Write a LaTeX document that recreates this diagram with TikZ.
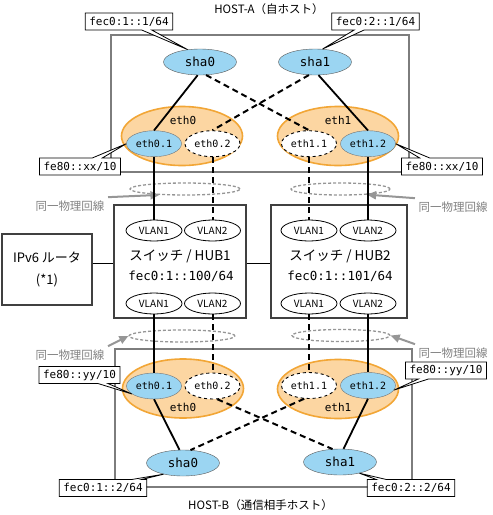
\documentclass[tikz,border=0pt]{standalone}
\usepackage{fontspec}
\setmainfont{Noto Sans CJK JP}
\newfontfamily\monofont{DejaVu Sans Mono}
\usetikzlibrary{shapes.geometric,shapes.callouts,arrows.meta}
\definecolor{shablue}{RGB}{155,213,242}
\definecolor{ethfill}{RGB}{252,214,162}
\definecolor{ethline}{RGB}{242,166,54}
\definecolor{framegray}{RGB}{125,125,125}
\definecolor{physgray}{RGB}{150,150,150}

\begin{document}
\begin{tikzpicture}[x=1pt, y=-1pt,
  frame/.style={draw=framegray, line width=1.5pt},
  box/.style={draw=black!75, line width=1.1pt, fill=white},
  sha/.style={draw=black!65, ellipse, fill=shablue, minimum width=73pt, minimum height=26pt, inner sep=0pt, font=\monofont\fontsize{12.5}{14}\selectfont},
  eth/.style={draw=ethline, ellipse, fill=ethfill, line width=1.6pt, minimum width=121pt, minimum height=59pt},
  sub/.style={draw=black!55, ellipse, fill=shablue, minimum width=55pt, minimum height=26pt, inner sep=0pt, font=\monofont\fontsize{10}{12}\selectfont},
  subd/.style={sub, draw=black, dashed, fill=white, line width=0.9pt},
  vlan/.style={draw, ellipse, fill=white, line width=0.8pt, minimum width=56pt, minimum height=21pt, inner sep=0pt, font=\fontsize{10}{12}\selectfont},
  lbl/.style={rectangle callout, draw, fill=white, line width=0.8pt, callout pointer width=10pt, inner xsep=4pt, inner ysep=2pt, minimum height=17pt, font=\monofont\fontsize{11}{13}\selectfont},
  phys/.style={draw=physgray, dash pattern=on 3pt off 2pt, ellipse, line width=1.3pt, minimum height=12pt, inner sep=0pt},
  ptext/.style={text=black!50, font=\fontsize{11.5}{13}\selectfont},
  parrow/.style={draw=physgray, line width=2pt, -{Triangle[length=9pt,width=8pt]}},
  n/.style={line width=1.8pt},
  d/.style={line width=2pt, dash pattern=on 6pt off 4pt}]
  \useasboundingbox (0,0) rectangle (493,515);

  % hosts
  \node[frame, minimum width=298pt, minimum height=137pt] (hostA) at (260,103.5) {};
  \node[frame, minimum width=297pt, minimum height=138pt] (hostB) at (263.5,418) {};
  \node[font=\fontsize{11.5}{13}\selectfont] (titleA) at (269,9.5) {HOST-A（自ホスト）};
  \node[font=\fontsize{11.5}{13}\selectfont] (titleB) at (260.5,505) {HOST-B（通信相手ホスト）};

  % switches and router
  \node[box, minimum width=132pt, minimum height=113pt] (hub1) at (180,261.5) {};
  \node[box, minimum width=136pt, minimum height=113pt] (hub2) at (339,261.5) {};
  \node[box, minimum width=90pt, minimum height=71pt, align=center, font=\fontsize{13}{22}\selectfont] (rt) at (47,269.5) {IPv6 ルータ\\(*1)};
  \coordinate (bus) at (0,263.5);
  \draw[line width=1.1pt] (rt.east |- bus) -- (hub1.west |- bus);
  \draw[line width=1.1pt] (hub1.east |- bus) -- (hub2.west |- bus);
  \node[font=\fontsize{13.5}{15}\selectfont] (hub1n) at (180,256) {スイッチ / HUB1};
  \node[font=\monofont\fontsize{12.5}{14}\selectfont] (hub1a) at (181,276) {fec0:1::100/64};
  \node[font=\fontsize{13.5}{15}\selectfont] (hub2n) at (340,256) {スイッチ / HUB2};
  \node[font=\monofont\fontsize{12.5}{14}\selectfont] (hub2a) at (340,276) {fec0:1::101/64};
  \node[vlan] (h1t1) at (154,230.5) {VLAN1};
  \node[vlan] (h1t2) at (212.5,230.5) {VLAN2};
  \node[vlan] (h2t1) at (309,230.5) {VLAN1};
  \node[vlan] (h2t2) at (368,230.5) {VLAN2};
  \node[vlan] (h1b1) at (154,303.5) {VLAN1};
  \node[vlan] (h1b2) at (212.5,303.5) {VLAN2};
  \node[vlan] (h2b1) at (309,303.5) {VLAN1};
  \node[vlan] (h2b2) at (368,303.5) {VLAN2};

  % same physical line
  \node[phys, minimum width=110pt] (ph1) at (185,189) {};
  \node[phys, minimum width=99pt] (ph2) at (340.5,189) {};
  \node[phys, minimum width=106pt] (ph3) at (182,336) {};
  \node[phys, minimum width=98pt] (ph4) at (341,335.5) {};
  \node[ptext] (pt1) at (70,206) {同一物理回線};
  \node[ptext] (pt2) at (453,207) {同一物理回線};
  \node[ptext] (pt3) at (70,355) {同一物理回線};
  \node[ptext] (pt4) at (453,353) {同一物理回線};
  \draw[parrow] (pt1.north east) -- (ph1.193);
  \draw[parrow] (pt2.north west) -- (ph2.-12);
  \draw[parrow] (pt3.north east) -- (ph3.west);
  \draw[parrow] (pt4.north west) -- (ph4.east);

  % host A
  \node[eth] (ethA0) at (182,136) {};
  \node[eth] (ethA1) at (338,136) {};
  \node[font=\monofont\fontsize{11}{13}\selectfont] (ethA0t) at (183,120) {eth0};
  \node[font=\monofont\fontsize{11}{13}\selectfont] (ethA1t) at (338,120) {eth1};
  \node[sha] (shaA0) at (200,62) {sha0};
  \node[sha] (shaA1) at (315,62) {sha1};
  \node[sub] (ethA01) at (154,143.7) {eth0.1};
  \node[subd] (ethA02) at (212.5,143.7) {eth0.2};
  \node[subd] (ethA11) at (309,143.7) {eth1.1};
  \node[sub] (ethA12) at (368,143.7) {eth1.2};

  % host B
  \node[eth] (ethB0) at (183,388.5) {};
  \node[eth] (ethB1) at (338,389) {};
  \node[font=\monofont\fontsize{11}{13}\selectfont] (ethB0t) at (183,407) {eth0};
  \node[font=\monofont\fontsize{11}{13}\selectfont] (ethB1t) at (338,407) {eth1};
  \node[sub] (ethB01) at (154,386) {eth0.1};
  \node[subd] (ethB02) at (212.5,386) {eth0.2};
  \node[subd] (ethB11) at (309,385.5) {eth1.1};
  \node[sub] (ethB12) at (368,385.5) {eth1.2};
  \node[sha] (shaB0) at (183,463) {sha0};
  \node[sha] (shaB1) at (340,462) {sha1};

  % edges
  \draw[n] (shaA0.-100) -- (ethA01.north);
  \draw[d] (shaA0.-65) -- (ethA11.north);
  \draw[d] (shaA1.-115) -- (ethA02.north);
  \draw[n] (shaA1.-75) -- (ethA12.north);
  \draw[n] (ethA01) -- (h1t1);
  \draw[d] (ethA02) -- (h1t2);
  \draw[d] (ethA11) -- (h2t1);
  \draw[n] (ethA12) -- (h2t2);
  \draw[n] (h1b1) -- (ethB01);
  \draw[d] (h1b2) -- (ethB02);
  \draw[d] (h2b1) -- (ethB11);
  \draw[n] (h2b2) -- (ethB12);
  \draw[n] (ethB01.south) -- (shaB0.105);
  \draw[d] (ethB02.-70) -- (shaB1.120);
  \draw[d] (ethB11.-110) -- (shaB0.60);
  \draw[n] (ethB12.south) -- (shaB1.75);

  % addresses
  \node[lbl, callout absolute pointer={(shaA0.135)}] (adA0) at (129,21.5) {fec0:1::1/64};
  \node[lbl, callout absolute pointer={(shaA1.60)}] (adA1) at (375.5,21.5) {fec0:2::1/64};
  \node[lbl, callout absolute pointer={(ethA01.west)}] (llA0) at (80,166.5) {fe80::xx/10};
  \node[lbl, callout absolute pointer={(ethA12.east)}] (llA1) at (442,166.5) {fe80::xx/10};
  \node[lbl, callout absolute pointer={(ethB01.200)}] (llB0) at (79.5,375) {fe80::yy/10};
  \node[lbl, callout absolute pointer={(ethB12.-10)}] (llB1) at (446,370.5) {fe80::yy/10};
  \node[lbl, callout absolute pointer={(shaB0.210)}] (adB0) at (103,488) {fec0:1::2/64};
  \node[lbl, callout absolute pointer={(shaB1.-30)}] (adB1) at (411,488) {fec0:2::2/64};
\end{tikzpicture}
\end{document}
